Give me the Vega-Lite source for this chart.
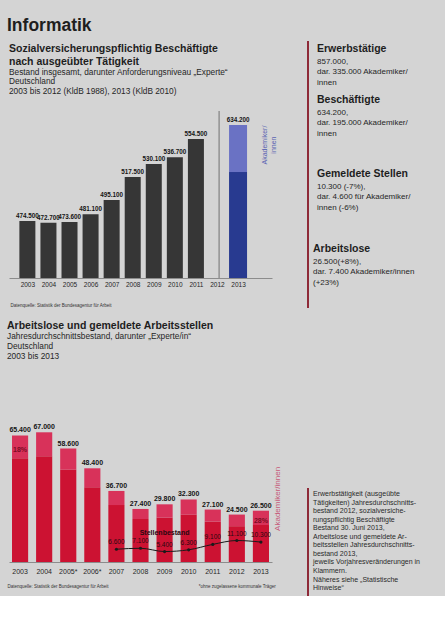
{
  "$schema": "https://vega.github.io/schema/vega-lite/v6.json",
  "background": "#d4d4d4",
  "padding": {"left": 7, "top": 16, "right": 0, "bottom": 0},
  "config": {
    "font": "Liberation Sans",
    "view": {"stroke": null},
    "locale": {"number": {"decimal": ",", "thousands": ".", "grouping": [3], "currency": ["", " €"]}},
    "title": {"color": "#1e1e1e", "subtitleColor": "#262626", "anchor": "start", "font": "Liberation Sans", "subtitleFont": "Liberation Sans"},
    "axis": {"grid": false, "ticks": false, "labelColor": "#262626", "domainColor": "#8c8c8c", "labelFont": "Liberation Sans", "titleFont": "Liberation Sans", "titleColor": "#333333", "titleFontWeight": "normal", "labelOverlap": false},
    "axisQuantitative": {"labelOverlap": false}
  },
  "title": {"text": "Informatik", "fontSize": 17.5, "fontWeight": "bold", "offset": 7},
  "datasets": {
    "beschaeftigte": [
      {"Jahr": 2003, "Beschaeftigte": 474500},
      {"Jahr": 2004, "Beschaeftigte": 472700},
      {"Jahr": 2005, "Beschaeftigte": 473600},
      {"Jahr": 2006, "Beschaeftigte": 481100},
      {"Jahr": 2007, "Beschaeftigte": 495100},
      {"Jahr": 2008, "Beschaeftigte": 517500},
      {"Jahr": 2009, "Beschaeftigte": 530100},
      {"Jahr": 2010, "Beschaeftigte": 536700},
      {"Jahr": 2011, "Beschaeftigte": 554500}
    ],
    "beschaeftigte2013": [
      {"Jahr": 2013, "Gruppe": "übrige", "Anzahl": 439200},
      {"Jahr": 2013, "Gruppe": "Akademiker/innen", "Anzahl": 195000}
    ],
    "arbeitslose": [
      {"Jahr": "2003", "Gruppe": "übrige", "Anzahl": 53600, "Anteil": ""},
      {"Jahr": "2003", "Gruppe": "Akademiker/innen", "Anzahl": 11800, "Anteil": "18%"},
      {"Jahr": "2004", "Gruppe": "übrige", "Anzahl": 54600, "Anteil": ""},
      {"Jahr": "2004", "Gruppe": "Akademiker/innen", "Anzahl": 12400, "Anteil": ""},
      {"Jahr": "2005*", "Gruppe": "übrige", "Anzahl": 47700, "Anteil": ""},
      {"Jahr": "2005*", "Gruppe": "Akademiker/innen", "Anzahl": 10900, "Anteil": ""},
      {"Jahr": "2006*", "Gruppe": "übrige", "Anzahl": 38600, "Anteil": ""},
      {"Jahr": "2006*", "Gruppe": "Akademiker/innen", "Anzahl": 9800, "Anteil": ""},
      {"Jahr": "2007", "Gruppe": "übrige", "Anzahl": 29400, "Anteil": ""},
      {"Jahr": "2007", "Gruppe": "Akademiker/innen", "Anzahl": 7300, "Anteil": ""},
      {"Jahr": "2008", "Gruppe": "übrige", "Anzahl": 22200, "Anteil": ""},
      {"Jahr": "2008", "Gruppe": "Akademiker/innen", "Anzahl": 5200, "Anteil": ""},
      {"Jahr": "2009", "Gruppe": "übrige", "Anzahl": 22900, "Anteil": ""},
      {"Jahr": "2009", "Gruppe": "Akademiker/innen", "Anzahl": 6900, "Anteil": ""},
      {"Jahr": "2010", "Gruppe": "übrige", "Anzahl": 24400, "Anteil": ""},
      {"Jahr": "2010", "Gruppe": "Akademiker/innen", "Anzahl": 7900, "Anteil": ""},
      {"Jahr": "2011", "Gruppe": "übrige", "Anzahl": 20900, "Anteil": ""},
      {"Jahr": "2011", "Gruppe": "Akademiker/innen", "Anzahl": 6200, "Anteil": ""},
      {"Jahr": "2012", "Gruppe": "übrige", "Anzahl": 18500, "Anteil": ""},
      {"Jahr": "2012", "Gruppe": "Akademiker/innen", "Anzahl": 6000, "Anteil": ""},
      {"Jahr": "2013", "Gruppe": "übrige", "Anzahl": 19100, "Anteil": ""},
      {"Jahr": "2013", "Gruppe": "Akademiker/innen", "Anzahl": 7400, "Anteil": "28%"}
    ],
    "stellen": [
      {"Jahr": "2007", "Stellen": 6600},
      {"Jahr": "2008", "Stellen": 7100},
      {"Jahr": "2009", "Stellen": 5400},
      {"Jahr": "2010", "Stellen": 6300},
      {"Jahr": "2011", "Stellen": 9100},
      {"Jahr": "2012", "Stellen": 11100},
      {"Jahr": "2013", "Stellen": 10300}
    ]
  },
  "hconcat": [
    {
      "spacing": 14,
      "resolve": {"scale": {"x": "independent", "y": "independent", "color": "independent"}},
      "vconcat": [
        {
          "data": {"values": []},
          "mark": {"type": "text"},
          "encoding": {},
          "width": 263,
          "height": 1,
          "title": {
            "text": ["Sozialversicherungspflichtig Beschäftigte", "nach ausgeübter Tätigkeit"],
            "subtitle": ["Bestand insgesamt, darunter Anforderungsniveau „Experte“", "Deutschland", "2003 bis 2012 (KldB 1988), 2013 (KldB 2010)"],
            "orient": "bottom",
            "fontSize": 10.5,
            "lineHeight": 13,
            "fontWeight": "bold",
            "subtitleFontSize": 8.3,
            "subtitleLineHeight": 9.7,
            "subtitlePadding": 0,
            "offset": 2
          }
        },
        {
          "width": 263,
          "height": 167,
          "resolve": {"scale": {"y": "independent"}},
          "layer": [
            {
              "data": {"name": "beschaeftigte"},
              "layer": [
                {
                  "mark": {"type": "bar", "width": 16, "color": "#363636"},
                  "encoding": {
                    "x": {
                      "field": "Jahr", "type": "quantitative",
                      "scale": {"domain": [2002.365, 2014.374], "nice": false, "zero": false},
                      "axis": {"values": [2003, 2004, 2005, 2006, 2007, 2008, 2009, 2010, 2011, 2012, 2013], "format": "d", "labelOverlap": false, "labelFlush": false, "labelFontSize": 6.5, "labelPadding": 3, "title": "Datenquelle: Statistik der Bundesagentur für Arbeit", "titleFontSize": 4.5, "titleAlign": "left", "titleBaseline": "middle", "titleX": 1, "titleY": 27}
                    },
                    "y": {"field": "Beschaeftigte", "type": "quantitative", "scale": {"domain": [418900, 581800], "zero": false, "nice": false, "clamp": true}, "axis": null}
                  }
                },
                {
                  "mark": {"type": "text", "dy": -3, "fontSize": 6.3, "fontWeight": "bold", "color": "#151515", "baseline": "alphabetic"},
                  "encoding": {
                    "x": {
                      "field": "Jahr", "type": "quantitative",
                      "scale": {"domain": [2002.365, 2014.374], "nice": false, "zero": false},
                      "axis": {"values": [2003, 2004, 2005, 2006, 2007, 2008, 2009, 2010, 2011, 2012, 2013], "format": "d", "labelOverlap": false, "labelFlush": false, "labelFontSize": 6.5, "labelPadding": 3, "title": "Datenquelle: Statistik der Bundesagentur für Arbeit", "titleFontSize": 4.5, "titleAlign": "left", "titleBaseline": "middle", "titleX": 1, "titleY": 27}
                    },
                    "y": {"field": "Beschaeftigte", "type": "quantitative"},
                    "text": {"field": "Beschaeftigte", "type": "quantitative", "format": ",d"}
                  }
                },
                {
                  "data": {"values": [{}]},
                  "mark": {"type": "rule", "color": "#707070", "strokeWidth": 1},
                  "encoding": {
                    "x": {
                      "datum": 2012.1, "type": "quantitative",
                      "scale": {"domain": [2002.365, 2014.374], "nice": false, "zero": false},
                      "axis": {"values": [2003, 2004, 2005, 2006, 2007, 2008, 2009, 2010, 2011, 2012, 2013], "format": "d", "labelOverlap": false, "labelFlush": false, "labelFontSize": 6.5, "labelPadding": 3, "title": "Datenquelle: Statistik der Bundesagentur für Arbeit", "titleFontSize": 4.5, "titleAlign": "left", "titleBaseline": "middle", "titleX": 1, "titleY": 27}
                    }
                  }
                }
              ]
            },
            {
              "data": {"name": "beschaeftigte2013"},
              "layer": [
                {
                  "mark": {"type": "bar", "width": 18},
                  "encoding": {
                    "x": {
                      "field": "Jahr", "type": "quantitative",
                      "scale": {"domain": [2002.365, 2014.374], "nice": false, "zero": false},
                      "axis": {"values": [2003, 2004, 2005, 2006, 2007, 2008, 2009, 2010, 2011, 2012, 2013], "format": "d", "labelOverlap": false, "labelFlush": false, "labelFontSize": 6.5, "labelPadding": 3, "title": "Datenquelle: Statistik der Bundesagentur für Arbeit", "titleFontSize": 4.5, "titleAlign": "left", "titleBaseline": "middle", "titleX": 1, "titleY": 27}
                    },
                    "y": {"field": "Anzahl", "type": "quantitative", "stack": "zero", "scale": {"domain": [0, 692200], "nice": false}, "axis": null},
                    "color": {"field": "Gruppe", "type": "nominal", "scale": {"domain": ["übrige", "Akademiker/innen"], "range": ["#283a90", "#6a72c4"]}, "legend": null},
                    "order": {"field": "Gruppe", "sort": "descending"}
                  }
                },
                {
                  "mark": {"type": "text", "dy": -3, "fontSize": 6.3, "fontWeight": "bold", "color": "#151515", "baseline": "alphabetic"},
                  "encoding": {
                    "x": {
                      "field": "Jahr", "type": "quantitative",
                      "scale": {"domain": [2002.365, 2014.374], "nice": false, "zero": false},
                      "axis": {"values": [2003, 2004, 2005, 2006, 2007, 2008, 2009, 2010, 2011, 2012, 2013], "format": "d", "labelOverlap": false, "labelFlush": false, "labelFontSize": 6.5, "labelPadding": 3, "title": "Datenquelle: Statistik der Bundesagentur für Arbeit", "titleFontSize": 4.5, "titleAlign": "left", "titleBaseline": "middle", "titleX": 1, "titleY": 27}
                    },
                    "y": {"aggregate": "sum", "field": "Anzahl", "type": "quantitative"},
                    "text": {"aggregate": "sum", "field": "Anzahl", "type": "quantitative", "format": ",d"}
                  }
                },
                {
                  "data": {"values": [{"Beschriftung": ["Akademiker/", "innen"]}]},
                  "mark": {"type": "text", "angle": 270, "fontSize": 7, "color": "#5a63b2", "align": "center", "baseline": "middle", "lineHeight": 9},
                  "encoding": {
                    "x": {
                      "datum": 2014.28, "type": "quantitative",
                      "scale": {"domain": [2002.365, 2014.374], "nice": false, "zero": false},
                      "axis": {"values": [2003, 2004, 2005, 2006, 2007, 2008, 2009, 2010, 2011, 2012, 2013], "format": "d", "labelOverlap": false, "labelFlush": false, "labelFontSize": 6.5, "labelPadding": 3, "title": "Datenquelle: Statistik der Bundesagentur für Arbeit", "titleFontSize": 4.5, "titleAlign": "left", "titleBaseline": "middle", "titleX": 1, "titleY": 27}
                    },
                    "y": {"datum": 551000, "type": "quantitative"},
                    "text": {"field": "Beschriftung"}
                  }
                }
              ]
            }
          ]
        },
        {
          "width": 263,
          "height": 163,
          "title": {
            "text": "Arbeitslose und gemeldete Arbeitsstellen",
            "subtitle": ["Jahresdurchschnittsbestand, darunter „Experte/in“", "Deutschland", "2003 bis 2013"],
            "fontSize": 10.5,
            "fontWeight": "bold",
            "subtitleFontSize": 8.3,
            "subtitleLineHeight": 10,
            "subtitlePadding": 0,
            "offset": 39
          },
          "layer": [
            {
              "data": {"name": "arbeitslose"},
              "mark": {"type": "bar"},
              "encoding": {
                "x": {
                  "field": "Jahr", "type": "ordinal",
                  "scale": {"domain": ["2003", "2004", "2005*", "2006*", "2007", "2008", "2009", "2010", "2011", "2012", "2013"], "paddingInner": 0.33, "paddingOuter": 0.125},
                  "axis": {
                    "labelAngle": 0,
                    "labelFontSize": 7,
                    "labelPadding": 5,
                    "title": "Datenquelle: Statistik der Bundesagentur für Arbeit",
                    "titleFontSize": 4.5,
                    "titleAlign": "left",
                    "titleBaseline": "middle",
                    "titleX": -2,
                    "titleY": 24
                  }
                },
                "y": {"field": "Anzahl", "type": "quantitative", "stack": "zero", "scale": {"domain": [0, 84200], "nice": false}, "axis": null},
                "color": {"field": "Gruppe", "type": "nominal", "scale": {"domain": ["übrige", "Akademiker/innen"], "range": ["#cc1232", "#d8325a"]}, "legend": null},
                "order": {"field": "Gruppe", "sort": "descending"}
              }
            },
            {
              "data": {"name": "arbeitslose"},
              "mark": {"type": "text", "fontSize": 7, "fontWeight": "bold", "color": "#7c0c24", "baseline": "middle", "dy": 3.5},
              "encoding": {
                "x": {"field": "Jahr", "type": "ordinal"},
                "y": {"field": "Anzahl", "type": "quantitative", "stack": "zero", "bandPosition": 0.5},
                "detail": {"field": "Gruppe"},
                "order": {"field": "Gruppe", "sort": "descending"},
                "text": {"field": "Anteil"}
              }
            },
            {
              "data": {"name": "arbeitslose"},
              "mark": {"type": "text", "dy": -3, "fontSize": 7, "fontWeight": "bold", "color": "#151515", "baseline": "alphabetic"},
              "encoding": {
                "x": {"field": "Jahr", "type": "ordinal"},
                "y": {"aggregate": "sum", "field": "Anzahl", "type": "quantitative"},
                "text": {"aggregate": "sum", "field": "Anzahl", "type": "quantitative", "format": ",d"}
              }
            },
            {
              "data": {"name": "stellen"},
              "mark": {"type": "line", "color": "#1a1a1a", "strokeWidth": 1, "interpolate": "monotone", "point": {"filled": true, "size": 10, "color": "#1a1a1a"}},
              "encoding": {
                "x": {"field": "Jahr", "type": "ordinal"},
                "y": {"field": "Stellen", "type": "quantitative"}
              }
            },
            {
              "data": {"name": "stellen"},
              "mark": {"type": "text", "dy": -7, "fontSize": 6.5, "color": "#2a0810", "baseline": "middle"},
              "encoding": {
                "x": {"field": "Jahr", "type": "ordinal"},
                "y": {"field": "Stellen", "type": "quantitative"},
                "text": {"field": "Stellen", "type": "quantitative", "format": ",d"}
              }
            },
            {
              "data": {"values": [{"Jahr": "2009", "Beschriftung": "Stellenbestand"}]},
              "mark": {"type": "text", "fontSize": 7, "fontWeight": "bold", "color": "#2a0810", "baseline": "middle"},
              "encoding": {
                "x": {"field": "Jahr", "type": "ordinal"},
                "y": {"datum": 15000, "type": "quantitative"},
                "text": {"field": "Beschriftung"}
              }
            },
            {
              "data": {"values": [{"Jahr": "2013", "Beschriftung": "Akademiker/innen"}]},
              "mark": {"type": "text", "angle": 270, "fontSize": 8, "color": "#c65a7a", "align": "center", "baseline": "middle", "dy": 17},
              "encoding": {
                "x": {"field": "Jahr", "type": "ordinal"},
                "y": {"datum": 32600, "type": "quantitative"},
                "text": {"field": "Beschriftung"}
              }
            },
            {
              "data": {"values": [{"Jahr": "2011", "Beschriftung": "*ohne zugelassene kommunale Träger"}]},
              "mark": {"type": "text", "fontSize": 4.5, "color": "#333333", "align": "left", "baseline": "middle", "dx": -14, "dy": 25},
              "encoding": {
                "x": {"field": "Jahr", "type": "ordinal"},
                "y": {"datum": 0, "type": "quantitative"},
                "text": {"field": "Beschriftung"}
              }
            }
          ]
        }
      ]
    },
    {
      "spacing": 180,
      "vconcat": [
        {
          "spacing": 4,
          "hconcat": [
            {
              "data": {"values": []},
              "mark": {"type": "rule"},
              "encoding": {},
              "width": 2,
              "height": 267,
              "view": {"fill": "#8e2a38", "stroke": null}
            },
            {
              "spacing": 2,
              "vconcat": [
                {
                  "data": {"values": []},
                  "mark": {"type": "text"},
                  "encoding": {},
                  "width": 128,
                  "height": 1,
                  "title": {"text": "Erwerbstätige", "subtitle": ["857.000,", "dar. 335.000 Akademiker/", "innen"], "orient": "bottom", "fontSize": 10.5, "fontWeight": "bold", "subtitleFontSize": 8, "subtitleLineHeight": 10.5, "subtitlePadding": 3, "offset": 2}
                },
                {
                  "data": {"values": []},
                  "mark": {"type": "text"},
                  "encoding": {},
                  "width": 128,
                  "height": 4,
                  "title": {"text": "Beschäftigte", "subtitle": ["634.200,", "dar. 195.000 Akademiker/", "innen"], "orient": "bottom", "fontSize": 10.5, "fontWeight": "bold", "subtitleFontSize": 8, "subtitleLineHeight": 10.5, "subtitlePadding": 3, "offset": 2}
                },
                {
                  "data": {"values": []},
                  "mark": {"type": "text"},
                  "encoding": {},
                  "width": 128,
                  "height": 27,
                  "title": {"text": "Gemeldete Stellen", "subtitle": ["10.300 (-7%),", "dar. 4.600 für Akademiker/", "innen (-6%)"], "orient": "bottom", "fontSize": 10.5, "fontWeight": "bold", "subtitleFontSize": 8, "subtitleLineHeight": 10.5, "subtitlePadding": 3, "offset": 2}
                },
                {
                  "data": {"values": []},
                  "mark": {"type": "text"},
                  "encoding": {},
                  "width": 128,
                  "height": 28,
                  "title": {"text": "Arbeitslose", "subtitle": ["26.500(+8%),", "dar. 7.400 Akademiker/innen", "(+23%)"], "orient": "bottom", "fontSize": 10.5, "fontWeight": "bold", "subtitleFontSize": 8, "subtitleLineHeight": 10.5, "subtitlePadding": 3, "offset": 2, "dx": -4}
                }
              ]
            }
          ]
        },
        {
          "spacing": 4,
          "hconcat": [
            {
              "data": {"values": []},
              "mark": {"type": "rule"},
              "encoding": {},
              "width": 2,
              "height": 108,
              "view": {"fill": "#8e2a38", "stroke": null}
            },
            {
              "data": {"values": []},
              "mark": {"type": "text"},
              "encoding": {},
              "width": 128,
              "height": 1,
              "title": {
                "text": ["Erwerbstätigkeit (ausgeübte", "Tätigkeiten) Jahresdurchschnitts-", "bestand 2012, sozialversiche-", "rungspflichtig Beschäftigte", "Bestand 30. Juni 2013,", "Arbeitslose und gemeldete Ar-", "beitsstellen Jahresdurchschnitts-", "bestand 2013,", "jeweils Vorjahresveränderungen in", "Klammern.", "Näheres siehe „Statistische", "Hinweise“"],
                "orient": "bottom",
                "fontSize": 7,
                "fontWeight": "normal",
                "lineHeight": 8.55,
                "offset": 1,
                "color": "#2a2a2a"
              }
            }
          ]
        }
      ]
    }
  ],
  "spacing": 25
}
